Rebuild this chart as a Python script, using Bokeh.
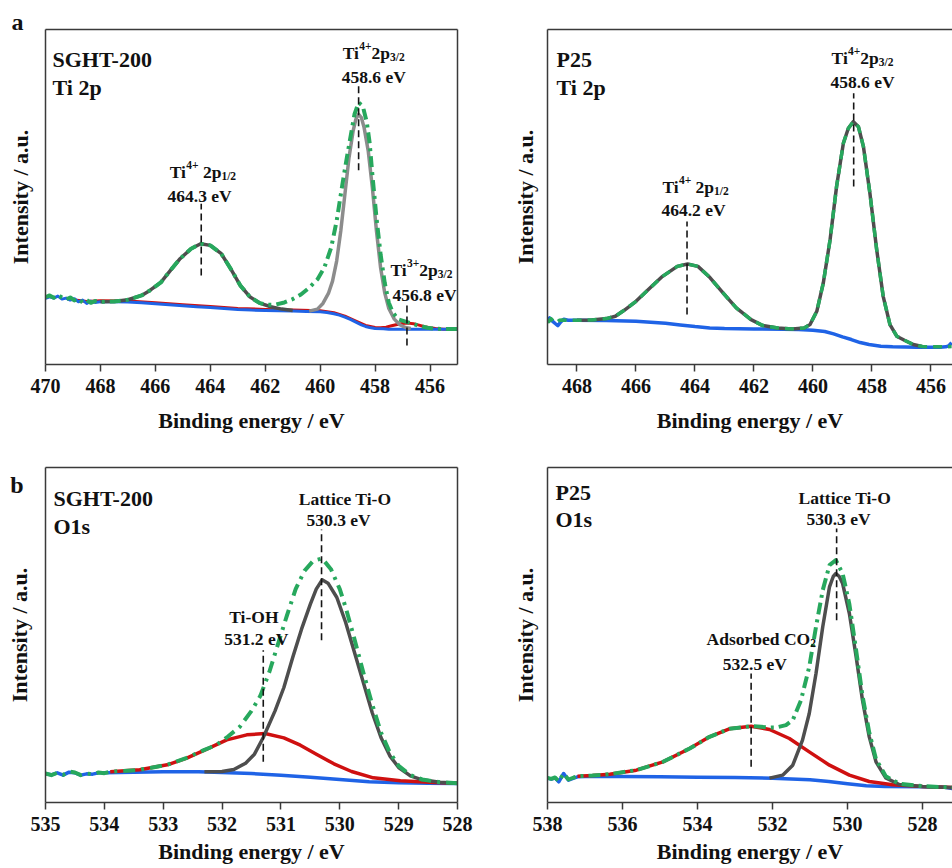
from bokeh.plotting import figure
from bokeh.layouts import column, row
from bokeh.models import Range1d, FixedTicker, LinearAxis, Label
from bokeh.embed import file_html
from bokeh.resources import INLINE

# ---------------- data ----------------
# Panel a, SGHT-200, Ti 2p
A1_BG_E = [470.0, 469.85, 469.7, 469.55, 469.4, 469.25, 469.1, 468.95, 468.8, 468.65, 468.5, 468.35, 468.2, 468.0,
           467.5, 467.0, 466.5, 466.0, 465.5, 465.0, 464.5, 464.0, 463.5, 463.0, 462.5, 462.0, 461.5, 461.0, 460.5,
           460.0, 459.75, 459.5, 459.3, 459.1, 458.9, 458.7, 458.5, 458.35, 458.2, 458.0, 457.7, 457.5, 457.0, 456.5,
           456.0, 455.5, 455.0]
A1_BG_Y = [19.8, 20.3, 19.9, 20.5, 19.6, 19.9, 19.3, 19.7, 18.8, 19.3, 18.3, 19.0, 18.6, 18.8,
           18.8, 18.7, 18.5, 18.2, 17.9, 17.6, 17.3, 17.1, 16.8, 16.5, 16.3, 16.2, 16.1, 16.0, 15.9,
           15.8, 15.6, 15.2, 14.8, 14.2, 13.5, 12.7, 11.9, 11.4, 11.1, 10.8, 10.7, 10.6, 10.6, 10.6,
           10.6, 10.6, 10.6]
A1_TI3_E = [469.0, 468.5, 468.0, 467.0, 466.0, 465.0, 464.0, 463.0, 462.0, 461.0, 460.0, 459.5, 459.1, 458.7,
            458.35, 458.0, 457.8, 457.6, 457.4, 457.2, 457.0, 456.8, 456.6, 456.4, 456.2, 456.0, 455.8, 455.5, 455.0]
A1_TI3_Y = [19.4, 18.9, 19.1, 19.0, 18.5, 17.9, 17.4, 16.8, 16.5, 16.3, 16.1, 15.5, 14.5, 13.0,
            11.7, 11.1, 11.0, 11.2, 11.6, 12.0, 12.3, 12.4, 12.2, 11.8, 11.3, 11.0, 10.8, 10.6, 10.6]
A1_P12_E = [468.0, 467.5, 467.0, 466.5, 466.2, 465.8, 465.45, 465.1, 464.7, 464.35, 464.0, 463.6, 463.25, 462.9,
            462.55, 462.2, 461.8, 461.4, 461.0]
A1_P12_Y = [18.8, 18.9, 19.4, 20.7, 22.2, 24.6, 28.2, 31.7, 34.7, 36.2, 35.7, 33.2, 28.6, 23.6,
            20.2, 18.4, 17.3, 16.6, 16.2]
A1_P32_E = [460.4, 460.1, 459.9, 459.7, 459.55, 459.4, 459.25, 459.1, 458.95, 458.8, 458.7, 458.6, 458.5, 458.4,
            458.25, 458.1, 457.95, 457.8, 457.65, 457.5, 457.3, 457.1, 456.9, 456.7]
A1_P32_Y = [16.0, 16.6, 18.3, 21.3, 25.0, 31.0, 40.0, 51.0, 62.0, 70.0, 73.5, 75.0, 74.0, 71.0,
            64.0, 53.0, 40.0, 29.0, 21.5, 16.8, 13.6, 11.9, 11.1, 10.8]
A1_ENV_E = [470.0, 469.85, 469.7, 469.55, 469.4, 469.25, 469.1, 468.95, 468.8, 468.65, 468.5, 468.35, 468.2, 468.0,
            467.5, 467.0, 466.5, 466.2, 465.8, 465.45, 465.1, 464.7, 464.35, 464.0, 463.6, 463.25, 462.9, 462.55,
            462.2, 461.9, 461.6, 461.3, 461.0, 460.7, 460.4, 460.1, 459.85, 459.6, 459.4, 459.2, 459.05, 458.9,
            458.75, 458.6, 458.45, 458.3, 458.2, 458.1, 457.95, 457.8, 457.65, 457.5, 457.35, 457.15, 456.95,
            456.7, 456.4, 456.1, 455.8, 455.0]
A1_ENV_Y = [20.2, 20.7, 20.0, 20.8, 20.1, 19.5, 20.1, 19.2, 19.7, 18.6, 19.3, 18.5, 19.0, 18.8,
            18.9, 19.4, 20.7, 22.2, 24.6, 28.2, 31.7, 34.7, 36.2, 35.7, 33.2, 28.6, 23.6, 20.2,
            18.4, 17.9, 18.0, 18.6, 19.6, 21.0, 23.0, 25.5, 29.0, 35.0, 43.0, 53.5, 61.0, 68.0,
            75.0, 78.5, 77.5, 72.5, 66.5, 57.0, 44.0, 33.0, 24.5, 18.5, 15.5, 13.5, 13.0,
            12.4, 11.6, 11.0, 10.7, 10.6]
A1_MARK_E = [464.33, 458.6, 456.84]
A1_MARK_LO = [26.7, 58.2, 5.7]
A1_MARK_HI = [48.2, 83.7, 18.7]

# Panel a, P25, Ti 2p
A2_BG_E = [469.0, 468.93, 468.85, 468.75, 468.65, 468.55, 468.45, 468.3, 468.0, 467.0, 466.0, 465.5, 465.0, 464.5,
           464.0, 463.5, 463.0, 462.0, 461.0, 460.5, 460.0, 459.6, 459.3, 459.0, 458.7, 458.4, 458.1, 457.7, 457.3,
           456.5, 456.0, 455.7, 455.5, 455.4, 455.3]
A2_BG_Y = [13.4, 14.0, 13.2, 12.4, 11.7, 12.8, 13.6, 13.3, 13.3, 13.2, 13.0, 12.7, 12.4, 11.9,
           11.4, 11.0, 10.8, 10.7, 10.6, 10.5, 10.3, 9.9, 9.2, 8.3, 7.5, 6.6, 6.0, 5.5, 5.3,
           5.2, 5.2, 5.2, 5.3, 5.6, 6.6]
A2_TI_E = [468.0, 467.5, 467.0, 466.7, 466.4, 466.0, 465.5, 465.1, 464.6, 464.25, 463.9, 463.5, 463.05, 462.6,
           462.1, 461.7, 461.2, 460.7, 460.3, 460.1, 459.87, 459.65, 459.42, 459.2, 458.97, 458.8, 458.63, 458.46,
           458.29, 458.07, 457.84, 457.62, 457.39, 457.16, 456.9, 456.6, 456.3]
A2_TI_Y = [13.3, 13.4, 13.8, 14.5, 16.3, 19.0, 23.2, 26.5, 29.5, 30.2, 29.5, 26.2, 21.5, 17.0,
           13.5, 11.7, 11.0, 10.7, 11.0, 12.0, 16.0, 24.5, 37.5, 53.5, 66.5, 71.0, 73.0, 71.5,
           65.5, 51.5, 34.5, 20.5, 12.0, 8.5, 7.3, 6.0, 5.4]
A2_ENV_E = [469.0, 468.95, 468.88, 468.8, 468.7, 468.6, 468.5, 468.3] + A2_TI_E + [456.0, 455.6, 455.3]
A2_ENV_Y = [13.5, 12.9, 13.8, 13.0, 12.6, 13.3, 13.4, 13.3] + A2_TI_Y + [5.3, 5.3, 5.4]
A2_MARK_E = [464.27, 458.62]
A2_MARK_LO = [15.0, 53.5]
A2_MARK_HI = [43.0, 81.5]

# Panel b, SGHT-200, O1s
B1_BG_E = [535.0, 534.9, 534.8, 534.7, 534.6, 534.5, 534.4, 534.3, 534.2, 534.1, 534.0, 533.5, 533.0, 532.4,
           532.0, 531.5, 531.0, 530.5, 530.0, 529.5, 529.0, 528.5, 528.0]
B1_BG_Y = [8.6, 8.3, 8.9, 8.2, 9.1, 8.9, 8.2, 8.6, 8.5, 8.9, 8.9, 9.1, 9.2, 9.2,
           9.0, 8.7, 8.2, 7.6, 6.9, 6.2, 5.9, 5.8, 5.7]
B1_OH_E = [533.9, 533.4, 532.93, 532.6, 532.26, 531.92, 531.58, 531.27, 530.95, 530.67, 530.39, 530.1, 529.8,
           529.43, 528.97, 528.4, 528.0]
B1_OH_Y = [9.2, 9.8, 11.3, 13.3, 16.0, 18.8, 20.3, 20.7, 19.4, 17.2, 14.4, 11.6, 9.3,
           7.4, 6.5, 6.0, 5.8]
B1_LAT_E = [532.3, 532.0, 531.8, 531.6, 531.45, 531.3, 531.1, 530.95, 530.8, 530.65, 530.5, 530.4, 530.3, 530.2,
            530.05, 529.9, 529.75, 529.6, 529.45, 529.3, 529.15, 529.0, 528.8, 528.6, 528.3, 528.0]
B1_LAT_Y = [9.2, 9.3, 9.9, 11.8, 14.5, 19.5, 27.5, 34.5, 43.5, 52.0, 59.5, 64.0, 66.8, 65.8,
            61.5, 54.0, 45.0, 36.0, 27.0, 19.5, 14.0, 10.5, 8.0, 6.8, 6.1, 5.8]
B1_ENV_E = [535.0, 534.9, 534.8, 534.7, 534.6, 534.5, 534.4, 534.3, 534.2, 534.1, 534.0, 533.9, 533.4, 532.93,
            532.6, 532.3, 532.1, 531.9, 531.7, 531.5, 531.35, 531.2, 531.05, 530.9, 530.75, 530.6, 530.45, 530.3,
            530.15, 530.0, 529.9, 529.75, 529.6, 529.45, 529.3, 529.15, 529.0, 528.8, 528.6, 528.3, 528.0]
B1_ENV_Y = [8.7, 8.2, 8.9, 8.3, 9.3, 9.0, 8.2, 8.7, 8.5, 9.0, 8.8, 9.2, 9.8, 11.3,
            13.4, 15.8, 17.2, 19.8, 22.7, 27.5, 32.0, 39.0, 47.5, 56.0, 64.0, 69.5, 72.5, 73.2,
            70.0, 64.0, 58.5, 49.0, 39.0, 29.5, 21.0, 15.0, 11.0, 8.2, 6.9, 6.1, 5.8]
B1_MARK_E = [531.3, 530.31]
B1_MARK_LO = [12.2, 48.7]
B1_MARK_HI = [45.7, 81.9]

# Panel b, P25, O1s
B2_BG_E = [538.0, 537.9, 537.8, 537.7, 537.57, 537.44, 537.3, 537.2, 537.0, 536.0, 535.0, 534.0, 533.0, 532.0,
           531.0, 530.5, 530.0, 529.5, 529.0, 528.0, 527.4, 527.2]
B2_BG_Y = [7.3, 7.0, 7.4, 6.2, 8.7, 6.7, 7.3, 7.7, 7.8, 7.8, 7.7, 7.6, 7.5, 7.3,
           6.8, 6.3, 5.6, 5.0, 4.8, 4.7, 4.6, 4.2]
B2_CO2_E = [537.2, 536.8, 536.34, 535.63, 534.92, 534.21, 533.68, 533.15, 532.57, 532.08, 531.55, 531.02, 530.48,
            529.95, 529.42, 528.8, 528.0, 527.2]
B2_CO2_Y = [7.9, 8.1, 8.5, 9.7, 12.2, 16.2, 19.7, 22.1, 22.9, 21.9, 19.2, 15.2, 11.2,
            8.2, 6.3, 5.3, 4.8, 4.5]
B2_LAT_E = [532.08, 531.73, 531.46, 531.2, 531.02, 530.84, 530.66, 530.48, 530.38, 530.31, 530.22, 530.13, 529.95,
            529.77, 529.6, 529.42, 529.24, 528.98, 528.62, 528.0, 527.2]
B2_LAT_Y = [7.3, 8.2, 11.2, 18.7, 26.7, 38.7, 52.7, 64.7, 67.8, 68.7, 67.8, 65.7, 56.7,
            43.7, 30.7, 19.7, 12.2, 7.4, 5.4, 4.8, 4.5]
B2_ENV_E = [538.0, 537.9, 537.8, 537.7, 537.57, 537.44, 537.3, 537.2, 536.8, 536.34, 535.63, 534.92, 534.21, 533.68,
            533.15, 532.57, 532.3, 532.08, 531.9, 531.64, 531.46, 531.24, 531.02, 530.84, 530.66, 530.48, 530.31,
            530.13, 529.95, 529.77, 529.6, 529.42, 529.24, 528.98, 528.62, 528.0, 527.2]
B2_ENV_Y = [7.4, 7.1, 7.5, 6.4, 8.6, 6.9, 7.5, 7.9, 8.1, 8.5, 9.7, 12.2, 16.2, 19.7,
            22.1, 22.9, 22.7, 22.5, 22.5, 23.2, 24.7, 30.7, 40.7, 52.7, 63.7, 71.2, 72.7,
            68.7, 59.5, 45.7, 32.0, 21.0, 13.0, 7.9, 5.6, 4.9, 4.5]
B2_MARK_E = [532.57, 530.29]
B2_MARK_LO = [10.7, 54.7]
B2_MARK_HI = [38.7, 82.2]

A1_TICKS = [470, 468, 466, 464, 462, 460, 458, 456]
A2_TICKS = [468, 466, 464, 462, 460, 458, 456]
B1_TICKS = [535, 534, 533, 532, 531, 530, 529, 528]
B2_TICKS = [538, 536, 534, 532, 530, 528]

# ---------------- styling ----------------
FONT = "Liberation Serif"
INK = "#111111"
FRAME = "#3a3a3a"
GREEN = "#27a85d"
DGRAY = "#4e4e4e"
LGRAY = "#8c8c8c"
RED = "#cf1010"
BLUE = "#1f63e6"

# Times-Bold advance widths (per 1000 em), used to lay out super/subscripts
TB = {"T": 667, "i": 278, "2": 500, "p": 556, "4": 500, "+": 570, "3": 500, "/": 278, "1": 500, " ": 250,
      "A": 722, "d": 556, "s": 389, "o": 500, "r": 444, "b": 556, "e": 444, "C": 722, "O": 778}


def tw(s, size):
    return sum(TB.get(c, 500) for c in s) / 1000.0 * size


def label(p, x, y, text, size, dx=0, dy=0, align="center"):
    p.add_layout(Label(x=x, y=y, x_offset=dx, y_offset=dy, text=text,
                       text_font=FONT, text_font_style="bold", text_font_size=f"{size}px",
                       text_color=INK, text_align=align, text_baseline="alphabetic"))


def rich(p, x, y, pieces):
    total = sum(tw(t, s) for t, s, d in pieces)
    off = -total / 2.0
    for t, s, d in pieces:
        if t.strip():
            label(p, x, y, t, s, dx=off, dy=d, align="left")
        off += tw(t, s)


def panel(width, height, borders, xr, yr, ticks, right_border, letter=None, letter_y=None,
          xlab_standoff=10, ylab_standoff=10):
    l, r, t, b = borders
    p = figure(width=width, height=height, x_range=Range1d(*xr), y_range=Range1d(*yr),
               output_backend="svg", toolbar_location=None, title=None,
               min_border_left=l, min_border_right=r, min_border_top=t, min_border_bottom=b)
    p.background_fill_color = "white"
    p.border_fill_color = "white"
    p.outline_line_color = None
    p.xgrid.visible = False
    p.ygrid.visible = False
    ax = p.xaxis[0]
    ax.ticker = FixedTicker(ticks=ticks)
    ax.axis_line_color = FRAME
    ax.axis_line_width = 1.5
    ax.major_tick_line_color = FRAME
    ax.major_tick_line_width = 1.5
    ax.major_tick_out = 7
    ax.major_tick_in = 0
    ax.minor_tick_line_color = None
    ax.minor_tick_out = 0
    ax.major_label_standoff = 7
    ax.major_label_text_font = FONT
    ax.major_label_text_font_style = "bold"
    ax.major_label_text_font_size = "20px"
    ax.major_label_text_color = INK
    ax.axis_label = "Binding energy / eV"
    ax.axis_label_text_font = FONT
    ax.axis_label_text_font_style = "bold"
    ax.axis_label_text_font_size = "22px"
    ax.axis_label_text_color = INK
    ax.axis_label_standoff = xlab_standoff

    ay = p.yaxis[0]
    ay.axis_line_color = FRAME
    ay.axis_line_width = 1.5
    ay.major_tick_line_color = None
    ay.minor_tick_line_color = None
    ay.major_tick_out = 0
    ay.major_tick_in = 0
    ay.minor_tick_out = 0
    ay.minor_tick_in = 0
    if letter:
        # panel letter drawn as the single tick label of the left axis
        ay.ticker = FixedTicker(ticks=[letter_y])
        ay.major_label_overrides = {letter_y: letter}
        ay.major_label_standoff = 22
        ay.major_label_text_font = FONT
        ay.major_label_text_font_style = "bold"
        ay.major_label_text_font_size = "24px"
        ay.major_label_text_color = INK
    else:
        ay.ticker = FixedTicker(ticks=[])
        ay.major_label_standoff = 0
    ay.axis_label = "Intensity / a.u."
    ay.axis_label_text_font = FONT
    ay.axis_label_text_font_style = "bold"
    ay.axis_label_text_font_size = "22px"
    ay.axis_label_text_color = INK
    ay.axis_label_standoff = ylab_standoff

    sides = ["above"] + (["right"] if right_border else [])
    for side in sides:
        ex = LinearAxis(ticker=FixedTicker(ticks=[]), axis_line_color=FRAME, axis_line_width=1.5,
                        major_tick_line_color=None, minor_tick_line_color=None,
                        major_tick_out=0, minor_tick_out=0, major_label_standoff=0,
                        major_label_text_font_size="0px")
        p.add_layout(ex, side)
    return p


def curve(p, xs, ys, color, width, dash="solid"):
    p.line(xs, ys, line_color=color, line_width=width, line_dash=dash, line_join="round")


def marks(p, xs, lo, hi):
    p.segment(x0=xs, y0=lo, x1=xs, y1=hi, line_color="#151515", line_width=1.6, line_dash="7 4")


# ---------------- panel a, SGHT-200 ----------------
xr = (470, 455); yr = (0, 100.4)
p1 = panel(476, 440, (45, 19, 29, 76), xr, yr, A1_TICKS, True, letter="a\n\u00a0", letter_y=97.9,
           xlab_standoff=12, ylab_standoff=-24)
curve(p1, A1_TI3_E, A1_TI3_Y, RED, 3)
curve(p1, A1_BG_E, A1_BG_Y, BLUE, 3)
curve(p1, A1_P12_E, A1_P12_Y, DGRAY, 3.5)
curve(p1, A1_P32_E, A1_P32_Y, LGRAY, 3.5)
curve(p1, A1_ENV_E, A1_ENV_Y, GREEN, 4, "11 5 3 5")
marks(p1, A1_MARK_E, A1_MARK_LO, A1_MARK_HI)
label(p1, xr[0], yr[1], "SGHT-200", 22, dx=7, dy=-30, align="left")
label(p1, xr[0], yr[1], "Ti 2p", 22, dx=7, dy=-58, align="left")
rich(p1, 458.05, 93.3, [("Ti", 17.5, 0), ("4+", 11.5, 7), ("2p", 17.5, 0), ("3/2", 11.5, -4)])
label(p1, 458.05, 86.1, "458.6 eV", 17.5)
rich(p1, 464.27, 57.7, [("Ti", 17.5, 0), ("4+", 11.5, 7), (" ", 17.5, 0), ("2p", 17.5, 0), ("1/2", 11.5, -4)])
label(p1, 464.39, 50.4, "464.3 eV", 17.5)
rich(p1, 456.31, 28.2, [("Ti", 17.5, 0), ("3+", 11.5, 7), ("2p", 17.5, 0), ("3/2", 11.5, -4)])
label(p1, 456.2, 20.7, "456.8 eV", 17.5)

# ---------------- panel a, P25 ----------------
xr = (469, 455.27); yr = (0, 100.7)
p2 = panel(476, 440, (71, 0, 29, 75), xr, yr, A2_TICKS, False, xlab_standoff=12, ylab_standoff=10)
curve(p2, A2_BG_E, A2_BG_Y, BLUE, 3.5)
curve(p2, A2_TI_E, A2_TI_Y, DGRAY, 3.5)
curve(p2, A2_ENV_E, A2_ENV_Y, GREEN, 3.5, "9 6")
marks(p2, A2_MARK_E, A2_MARK_LO, A2_MARK_HI)
label(p2, xr[0], yr[1], "P25", 22, dx=9, dy=-30, align="left")
label(p2, xr[0], yr[1], "Ti 2p", 22, dx=9, dy=-58, align="left")
rich(p2, 458.32, 92.0, [("Ti", 17.5, 0), ("4+", 11.5, 7), ("2p", 17.5, 0), ("3/2", 11.5, -4)])
label(p2, 458.32, 85.0, "458.6 eV", 17.5)
rich(p2, 463.98, 53.5, [("Ti", 17.5, 0), ("4+", 11.5, 7), (" ", 17.5, 0), ("2p", 17.5, 0), ("1/2", 11.5, -4)])
label(p2, 464.05, 46.3, "464.2 eV", 17.5)

# ---------------- panel b, SGHT-200 ----------------
xr = (535, 528); yr = (0, 100.5)
p3 = panel(476, 428, (45, 19, 27, 66), xr, yr, B1_TICKS, True, letter="b", letter_y=95.4,
           xlab_standoff=5, ylab_standoff=-25)
curve(p3, B1_BG_E, B1_BG_Y, BLUE, 3.5)
curve(p3, B1_OH_E, B1_OH_Y, RED, 3.5)
curve(p3, B1_LAT_E, B1_LAT_Y, DGRAY, 3.5)
curve(p3, B1_ENV_E, B1_ENV_Y, GREEN, 4, "12 6 3 6")
marks(p3, B1_MARK_E, B1_MARK_LO, B1_MARK_HI)
label(p3, xr[0], yr[1], "SGHT-200", 22, dx=8, dy=-31, align="left")
label(p3, xr[0], yr[1], "O1s", 22, dx=8, dy=-59, align="left")
label(p3, 529.91, 91.2, "Lattice Ti-O", 17.5)
label(p3, 530.02, 84.7, "530.3 eV", 17.5)
label(p3, 531.46, 55.7, "Ti-OH", 17.5)
label(p3, 531.42, 49.0, "531.2 eV", 17.5)

# ---------------- panel b, P25 ----------------
xr = (538, 527.2); yr = (0, 100.5)
p4 = panel(476, 428, (71, 0, 27, 66), xr, yr, B2_TICKS, False, xlab_standoff=5, ylab_standoff=10)
curve(p4, B2_BG_E, B2_BG_Y, BLUE, 3.5)
curve(p4, B2_CO2_E, B2_CO2_Y, RED, 3.5)
curve(p4, B2_LAT_E, B2_LAT_Y, DGRAY, 3.5)
curve(p4, B2_ENV_E, B2_ENV_Y, GREEN, 4, "12 5 3 5")
marks(p4, B2_MARK_E, B2_MARK_LO, B2_MARK_HI)
label(p4, xr[0], yr[1], "P25", 22, dx=8, dy=-25, align="left")
label(p4, xr[0], yr[1], "O1s", 22, dx=8, dy=-52, align="left")
label(p4, 530.07, 91.5, "Lattice Ti-O", 17.5)
label(p4, 530.24, 85.2, "530.3 eV", 17.5)
rich(p4, 532.30, 49.2, [("Adsorbed CO", 17.5, 0), ("2", 11.5, -4)])
label(p4, 532.47, 41.7, "532.5 eV", 17.5)

layout = column(row(p1, p2), row(p3, p4))
open("out.html", "w").write(file_html(layout, INLINE))
